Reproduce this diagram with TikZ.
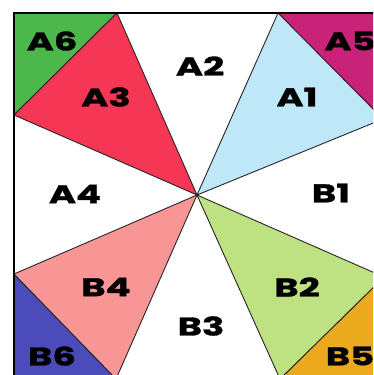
\documentclass[tikz,border=0pt]{standalone}
\usepackage{fontspec}
\setmainfont{Poppins}[FakeStretch=1.45, BoldFeatures={FakeBold=1.3}]
\begin{document}
\begin{tikzpicture}[x=1pt,y=-1pt,
  lbl/.style={font=\bfseries\fontsize{25.5}{25.5}\selectfont, inner sep=0pt},
  edge/.style={draw=black!85, line width=0.9pt, line join=round}]
\definecolor{cA6}{HTML}{4CB84C}
\definecolor{cA3}{HTML}{F53755}
\definecolor{cA1}{HTML}{BEE8F8}
\definecolor{cA5}{HTML}{C82378}
\definecolor{cB4}{HTML}{F89696}
\definecolor{cB6}{HTML}{4B4BB9}
\definecolor{cB2}{HTML}{BEE182}
\definecolor{cB5}{HTML}{EBAA1E}
\useasboundingbox (0,0) rectangle (373,375);
\fill[white] (0,0) rectangle (373,375);
\clip (0,0) rectangle (373,375);
\coordinate (C) at (197,195);
\coordinate (T1) at (117,13);
\coordinate (T2) at (278,13);
\coordinate (L1) at (14,115);
\coordinate (L2) at (14,274);
\coordinate (R1) at (383,119);
\coordinate (R2) at (384,277);
\coordinate (D1) at (116,379);
\coordinate (D2) at (280,379);
\coordinate (TL) at (14,13);
\coordinate (TR) at (384,13);
\coordinate (BL) at (14,379);
\coordinate (BR) at (384,379);
% corner triangles
\path[edge, fill=cA6] (TL) -- (T1) -- (L1) -- cycle;
\path[edge, fill=cA5] (T2) -- (TR) -- (R1) -- cycle;
\path[edge, fill=cB6] (L2) -- (D1) -- (BL) -- cycle;
\path[edge, fill=cB5] (R2) -- (BR) -- (D2) -- cycle;
% centre triangles
\path[edge, fill=cA3] (C) -- (T1) -- (L1) -- cycle;
\path[edge, fill=cA1] (C) -- (T2) -- (R1) -- cycle;
\path[edge, fill=cB4] (C) -- (L2) -- (D1) -- cycle;
\path[edge, fill=cB2] (C) -- (R2) -- (D2) -- cycle;
% border
\draw[line width=2pt] (TL) rectangle (BR);
% labels
\node[lbl] (a6) at (52,41) {A6};
\node[lbl] (a2) at (200,66) {A2};
\node[lbl] (a5) at (350,41) {A5};
\node[lbl] (a3) at (106,97) {A3};
\node[lbl] (a1) at (297,97) {A1};
\node[lbl] (a4) at (75,194) {A4};
\node[lbl] (b1) at (331,193) {B1};
\node[lbl] (b4) at (106,287) {B4};
\node[lbl] (b2) at (297,287) {B2};
\node[lbl] (b3) at (201,326) {B3};
\node[lbl] (b6) at (52,356) {B6};
\node[lbl] (b5) at (350,356) {B5};
\end{tikzpicture}
\end{document}
